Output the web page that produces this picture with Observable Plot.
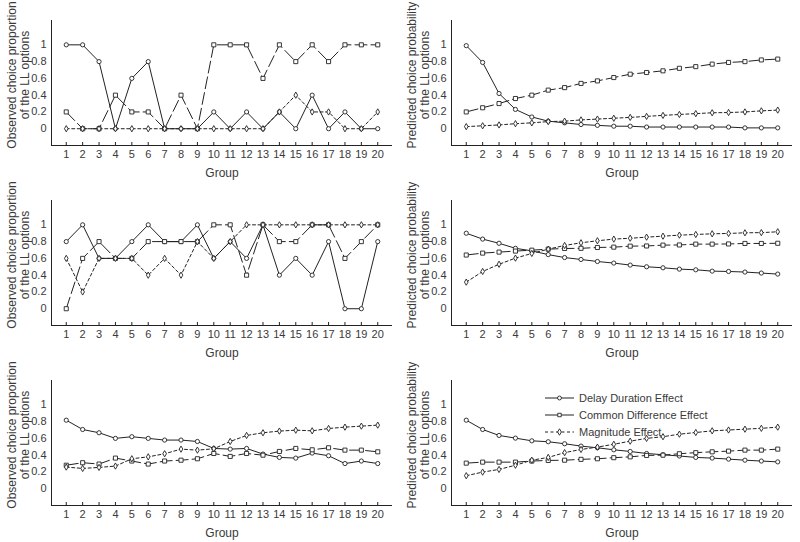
<!DOCTYPE html>
<html>
<head>
<meta charset="utf-8">
<script src="https://cdn.jsdelivr.net/npm/d3@7"></script>
<script src="https://cdn.jsdelivr.net/npm/@observablehq/plot@0.6"></script>
<style>
  html, body { margin: 0; padding: 0; background: #fff; }
  #wrap { position: relative; width: 800px; height: 542px; font-family: "Liberation Sans", Arial, sans-serif; }
  .panel { position: absolute; }
  #legend { position: absolute; left: 545px; top: 389px; font-size: 11px; color: #3a3a3a; font-family: "Liberation Sans", Arial, sans-serif; }
  #legend .row { display: flex; align-items: center; height: 17px; }
  #legend svg { margin-right: 5px; }
</style>
</head>
<body>
<div id="wrap"></div>
<script>
const groups = d3.range(1, 21);
const yTicks = [0, 0.2, 0.4, 0.6, 0.8, 1];
const seriesNames = ["Delay Duration Effect", "Common Difference Effect", "Magnitude Effect"];
const obsLabel = "Observed choice proportion\nof the LL options";
const predLabel = "Predicted choice probability\nof the LL options";
const xLabel = "Group";

// Row 1
const obs1Delay     = [1, 1, 0.8, 0, 0.6, 0.8, 0, 0, 0, 0.2, 0, 0.2, 0, 0.2, 0, 0.4, 0, 0.2, 0, 0];
const obs1Common    = [0.2, 0, 0, 0.4, 0.2, 0.2, 0, 0.4, 0, 1, 1, 1, 0.6, 1, 0.8, 1, 0.8, 1, 1, 1];
const obs1Magnitude = [0, 0, 0, 0, 0, 0, 0, 0, 0, 0, 0, 0, 0, 0.2, 0.4, 0.2, 0.2, 0, 0, 0.2];
const pred1Delay     = [0.99, 0.79, 0.42, 0.23, 0.14, 0.09, 0.07, 0.05, 0.04, 0.03, 0.03, 0.02, 0.02, 0.02, 0.02, 0.02, 0.02, 0.01, 0.01, 0.01];
const pred1Common    = [0.20, 0.25, 0.30, 0.36, 0.40, 0.46, 0.49, 0.54, 0.57, 0.61, 0.65, 0.67, 0.69, 0.72, 0.74, 0.77, 0.79, 0.80, 0.82, 0.83];
const pred1Magnitude = [0.025, 0.035, 0.045, 0.06, 0.07, 0.085, 0.09, 0.105, 0.115, 0.125, 0.135, 0.147, 0.159, 0.17, 0.18, 0.19, 0.193, 0.20, 0.213, 0.222];

// Row 2
const obs2Delay     = [0.8, 1, 0.6, 0.6, 0.8, 1, 0.8, 0.8, 1, 0.6, 0.8, 0.6, 1, 0.4, 0.6, 0.4, 0.8, 0, 0, 0.8];
const obs2Common    = [0, 0.6, 0.8, 0.6, 0.6, 0.8, 0.8, 0.8, 0.8, 1, 1, 0.4, 1, 0.8, 0.8, 1, 1, 0.6, 0.8, 1];
const obs2Magnitude = [0.6, 0.2, 0.6, 0.6, 0.6, 0.4, 0.6, 0.4, 0.8, 0.6, 0.8, 1, 1, 1, 1, 1, 1, 1, 1, 1];
const pred2Delay     = [0.90, 0.83, 0.78, 0.72, 0.69, 0.645, 0.61, 0.587, 0.563, 0.544, 0.52, 0.50, 0.488, 0.472, 0.464, 0.448, 0.444, 0.437, 0.425, 0.413];
const pred2Common    = [0.64, 0.663, 0.675, 0.687, 0.698, 0.71, 0.718, 0.72, 0.73, 0.734, 0.746, 0.748, 0.758, 0.76, 0.77, 0.77, 0.772, 0.778, 0.778, 0.78];
const pred2Magnitude = [0.317, 0.444, 0.53, 0.603, 0.659, 0.71, 0.754, 0.786, 0.81, 0.83, 0.84, 0.853, 0.865, 0.877, 0.885, 0.893, 0.897, 0.905, 0.907, 0.917];

// Row 3
const obs3Delay     = [0.817, 0.706, 0.667, 0.60, 0.62, 0.60, 0.58, 0.58, 0.563, 0.48, 0.472, 0.48, 0.413, 0.373, 0.365, 0.425, 0.393, 0.30, 0.33, 0.30];
const obs3Common    = [0.28, 0.31, 0.294, 0.365, 0.33, 0.294, 0.33, 0.34, 0.357, 0.42, 0.385, 0.42, 0.40, 0.444, 0.48, 0.464, 0.488, 0.46, 0.46, 0.44];
const obs3Magnitude = [0.258, 0.242, 0.254, 0.27, 0.357, 0.38, 0.417, 0.472, 0.46, 0.476, 0.563, 0.635, 0.667, 0.687, 0.698, 0.69, 0.718, 0.734, 0.746, 0.758];
const pred3Delay     = [0.817, 0.706, 0.635, 0.603, 0.571, 0.56, 0.536, 0.508, 0.488, 0.464, 0.444, 0.42, 0.405, 0.39, 0.373, 0.365, 0.353, 0.34, 0.33, 0.32];
const pred3Common    = [0.305, 0.317, 0.317, 0.317, 0.33, 0.337, 0.34, 0.35, 0.357, 0.37, 0.38, 0.397, 0.40, 0.417, 0.43, 0.44, 0.448, 0.46, 0.46, 0.472];
const pred3Magnitude = [0.155, 0.198, 0.23, 0.28, 0.34, 0.373, 0.43, 0.468, 0.496, 0.53, 0.567, 0.60, 0.62, 0.65, 0.67, 0.69, 0.70, 0.71, 0.72, 0.734];

const panels = [
  {row: 0, col: 0, label: obsLabel,  s: [obs1Delay, obs1Common, obs1Magnitude]},
  {row: 0, col: 1, label: predLabel, s: [pred1Delay, pred1Common, pred1Magnitude]},
  {row: 1, col: 0, label: obsLabel,  s: [obs2Delay, obs2Common, obs2Magnitude]},
  {row: 1, col: 1, label: predLabel, s: [pred2Delay, pred2Common, pred2Magnitude]},
  {row: 2, col: 0, label: obsLabel,  s: [obs3Delay, obs3Common, obs3Magnitude]},
  {row: 2, col: 1, label: predLabel, s: [pred3Delay, pred3Common, pred3Magnitude]}
];

const styles = [
  {symbol: "circle",  dash: null,    r: 2.1},
  {symbol: "square",  dash: "12,4",  r: 2.3},
  {symbol: "diamond", dash: "3,2.5", r: 1.9}
];
const ink = "#222";
const textInk = "#3a3a3a";
const xDomain = [0.1, 20.9];
const yDomain = [-0.2, 1.29];

const wrap = document.getElementById("wrap");

for (const p of panels) {
  const marks = [
    Plot.ruleX([xDomain[0]], {stroke: ink, strokeWidth: 1}),
    Plot.ruleY([yDomain[0]], {stroke: ink, strokeWidth: 1}),
    Plot.ruleX(groups, {x: d => d, insetTop: 122, stroke: ink, strokeWidth: 1}),
    Plot.axisX({ticks: groups, tickSize: 0, tickPadding: 5, tickFormat: d => String(d), fontSize: 11, fill: textInk, label: null}),
    Plot.axisY({ticks: yTicks, tickSize: 0, tickPadding: 5, tickFormat: d => String(+d.toFixed(1)), fontSize: 11, fill: textInk, label: null}),
    Plot.text([p.label], {frameAnchor: "left", rotate: -90, dx: -33, dy: -8, lineAnchor: "middle", textAnchor: "middle", fontSize: 12, lineHeight: 1.08, fill: textInk}),
    Plot.text([xLabel], {frameAnchor: "bottom", dy: 28, lineAnchor: "middle", fontSize: 12, fill: textInk})
  ];
  p.s.forEach((vals, i) => {
    const st = styles[i];
    const data = groups.map((g, j) => ({g, v: vals[j]}));
    marks.push(Plot.line(data, {x: "g", y: "v", stroke: ink, strokeWidth: 1, strokeDasharray: st.dash}));
  });
  p.s.forEach((vals, i) => {
    const st = styles[i];
    const data = groups.map((g, j) => ({g, v: vals[j]}));
    marks.push(Plot.dot(data, {x: "g", y: "v", symbol: () => st.symbol, r: st.r, stroke: ink, strokeWidth: 0.9, fill: "white"}));
  });
  const h = p.row === 2 ? 182 : 180;
  const chart = Plot.plot({
    width: 400, height: h,
    marginLeft: 51, marginRight: 8, marginTop: 20, marginBottom: h - 145,
    style: {fontFamily: "'Liberation Sans', Arial, sans-serif", background: "transparent", color: textInk},
    x: {domain: xDomain},
    y: {domain: yDomain},
    symbol: {domain: ["circle", "square", "diamond"], range: ["circle", "square", "diamond"]},
    marks
  });
  const div = document.createElement("div");
  div.className = "panel";
  div.style.left = (p.col * 400) + "px";
  div.style.top = (p.row * 180) + "px";
  div.appendChild(chart);
  wrap.appendChild(div);
}

// Legend (bottom-right panel)
const legend = document.createElement("div");
legend.id = "legend";
seriesNames.forEach((name, i) => {
  const st = styles[i];
  const row = document.createElement("div");
  row.className = "row";
  const svg = d3.create("svg").attr("width", 29).attr("height", 10);
  svg.append("line").attr("x1", 0).attr("x2", 29).attr("y1", 5).attr("y2", 5)
    .attr("stroke", ink).attr("stroke-width", 1).attr("stroke-dasharray", i === 2 ? "3,2.5" : null);
  const sym = {circle: d3.symbolCircle, square: d3.symbolSquare, diamond: d3.symbolDiamond}[st.symbol];
  svg.append("path").attr("transform", "translate(14.5,5)").attr("d", d3.symbol(sym, 12)())
    .attr("fill", "white").attr("stroke", ink).attr("stroke-width", 0.9);
  row.appendChild(svg.node());
  const t = document.createElement("span");
  t.textContent = name;
  row.appendChild(t);
  legend.appendChild(row);
});
wrap.appendChild(legend);
</script>
</body>
</html>
